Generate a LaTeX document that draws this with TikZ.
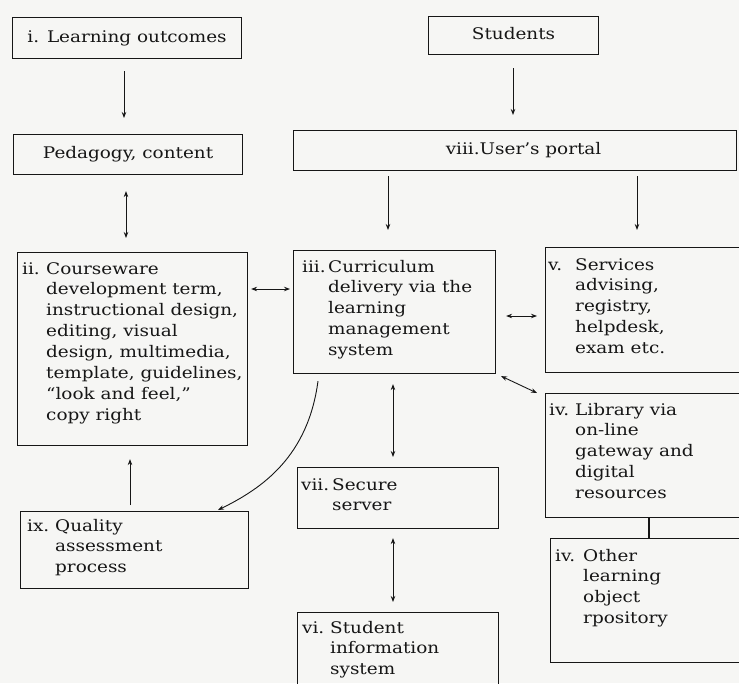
\documentclass[tikz,border=0pt]{standalone}
\usepackage{fontspec}
\setmainfont{DejaVu Serif}[FakeStretch=1.15]
\usetikzlibrary{arrows.meta}
\definecolor{ink}{RGB}{22,22,22}
\definecolor{paper}{RGB}{246,246,244}
\begin{document}
\begin{tikzpicture}[x=1pt,y=-1pt,
  font=\fontsize{16}{20.9}\selectfont,
  box/.style={draw=ink, line width=1.1pt, inner sep=0pt, anchor=north west, text=ink},
  onebox/.style={box, text height=11.7pt, text depth=3.5pt},
  txt/.style={anchor=base west, inner sep=0pt, text=ink},
  arr/.style={draw=ink, line width=0.9pt, -{Stealth[length=6pt,width=4.5pt]}},
  darr/.style={draw=ink, line width=0.9pt, {Stealth[length=6pt,width=4.5pt]}-{Stealth[length=6pt,width=4.5pt]}},
  plain/.style={draw=ink, line width=1.1pt}
]
\fill[paper] (0,0) rectangle (739,683);
\useasboundingbox (0,0) rectangle (739,683);

% single-line boxes
\node[onebox, minimum width=229pt, minimum height=41pt] (i) at (12,17) {i. Learning outcomes\hspace{6pt}};
\node[onebox, minimum width=229pt, minimum height=40pt] (ped) at (13,134) {Pedagogy, content};
\node[onebox, minimum width=170pt, minimum height=38pt] (stu) at (428,16) {Students\hspace{18pt}};
\node[onebox, minimum width=443pt, minimum height=40pt] (portal) at (293,130) {\hspace{17pt}viii.User’s portal};

% multi-line boxes
\node[box, minimum width=230pt, minimum height=193pt] (ii) at (17,252) {};
\node[box, minimum width=202pt, minimum height=123pt] (iii) at (293,250) {};
\node[box, minimum width=215pt, minimum height=125pt] (v) at (545,247) {};
\node[box, minimum width=215pt, minimum height=124pt] (lib) at (545,393) {};
\node[box, minimum width=210pt, minimum height=124pt] (oth) at (550,538) {};
\node[box, minimum width=201pt, minimum height=61pt] (vii) at (297,467) {};
\node[box, minimum width=201pt, minimum height=90pt] (vi) at (297,612) {};
\node[box, minimum width=228pt, minimum height=77pt] (ix) at (20,511) {};

% texts
\node[txt] (iit) at (22,274) {\begin{tabular}[t]{@{}p{24pt}@{}l@{}}ii.&Courseware\\&development term,\\&instructional design,\\&editing, visual\\&design, multimedia,\\&template, guidelines,\\&“look and feel,”\\&copy right\end{tabular}};
\node[txt] (iiit) at (302,272) {\begin{tabular}[t]{@{}p{26pt}@{}l@{}}iii.&Curriculum\\&delivery via the\\&learning\\&management\\&system\end{tabular}};
\node[txt] (vt) at (548,270) {\begin{tabular}[t]{@{}p{27pt}@{}l@{}}v.&Services\\&advising,\\&registry,\\&helpdesk,\\&exam etc.\end{tabular}};
\node[txt] (libt) at (549,415) {\begin{tabular}[t]{@{}p{26pt}@{}l@{}}iv.&Library via\\&on-line\\&gateway and\\&digital\\&resources\end{tabular}};
\node[txt] (otht) at (555,561) {\begin{tabular}[t]{@{}p{28pt}@{}l@{}}iv.&Other\\&learning\\&object\\&rpository\end{tabular}};
\node[txt] (viit) at (301,490) {\begin{tabular}[t]{@{}p{31pt}@{}l@{}}vii.&Secure\\&server\end{tabular}};
\node[txt] (vit) at (302,633) {\begin{tabular}[t]{@{}p{28pt}@{}l@{}}vi.&Student\\&information\\&system\end{tabular}};
\node[txt] (ixt) at (27,531) {\begin{tabular}[t]{@{}p{28pt}@{}l@{}}ix.&Quality\\&assessment\\&process\end{tabular}};

% connectors
\draw[arr] ([shift={(112,12)}]i.south west) -- ([shift={(111,-16)}]ped.north west);
\draw[darr] ([shift={(113,16)}]ped.south west) -- ([shift={(109,-14)}]ii.north west);
\draw[arr] ([shift={(85,13)}]stu.south west) -- ([shift={(220,-15)}]portal.north west);
\draw[arr] ([shift={(95,5)}]portal.south west) -- ([shift={(95,-20)}]iii.north west);
\draw[arr] ([shift={(344,5)}]portal.south west) -- ([shift={(92,-17)}]v.north west);
\draw[darr] ([shift={(3,37)}]ii.north east) -- ([shift={(-3,39)}]iii.north west);
\draw[darr] ([shift={(10,66)}]iii.north east) -- ([shift={(-8,69)}]v.north west);
\draw[darr] ([shift={(5,2)}]iii.south east) -- ([shift={(-8,0)}]lib.north west);
\draw[darr] ([shift={(100,10)}]iii.south west) -- ([shift={(96,-10)}]vii.north west);
\draw[darr] ([shift={(96,9)}]vii.south west) -- ([shift={(96,-10)}]vi.north west);
\draw[plain] ([shift={(104,0)}]lib.south west) -- ([shift={(99,0)}]oth.north west);
\draw[arr] ([shift={(110,-6)}]ix.north west) -- ([shift={(113,13)}]ii.south west);
\draw[arr] ([shift={(25,7)}]iii.south west) .. controls +(-10,75) and +(45,-22) .. ([shift={(198,-1)}]ix.north west);
\end{tikzpicture}
\end{document}
